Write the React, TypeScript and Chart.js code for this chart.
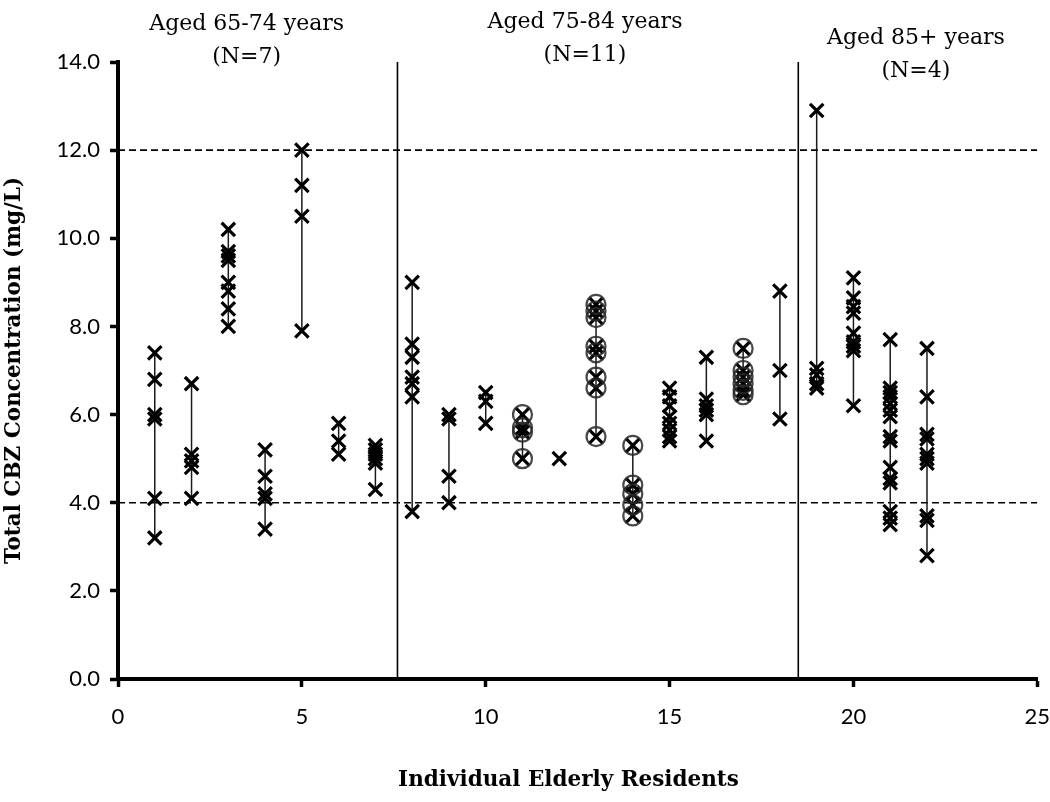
import React, { useEffect, useRef } from "react";
import { Chart, registerables } from "chart.js";

Chart.register(...registerables);

// ---- data ----
const residentIds = [1, 2, 3, 4, 5, 6, 7, 8, 9, 10, 11, 12, 13, 14, 15, 16, 17, 18, 19, 20, 21, 22];

const concentrations: number[][] = [
  [7.4, 6.8, 6.0, 5.9, 4.1, 3.2],
  [6.7, 5.1, 4.95, 4.8, 4.1],
  [10.2, 9.7, 9.6, 9.5, 9.0, 8.8, 8.4, 8.0],
  [5.2, 4.6, 4.2, 4.1, 3.4],
  [12.0, 11.2, 10.5, 7.9],
  [5.8, 5.4, 5.1],
  [5.3, 5.2, 5.1, 5.0, 4.9, 4.3],
  [9.0, 7.6, 7.3, 6.85, 6.7, 6.4, 3.8],
  [6.0, 5.9, 4.6, 4.0],
  [6.5, 6.3, 5.8],
  [6.0, 5.7, 5.6, 5.0],
  [5.0],
  [8.5, 8.35, 8.2, 7.55, 7.4, 6.85, 6.6, 5.5],
  [5.3, 4.4, 4.2, 3.95, 3.7],
  [6.6, 6.4, 6.2, 5.95, 5.8, 5.65, 5.5, 5.4],
  [7.3, 6.35, 6.2, 6.1, 6.0, 5.4],
  [7.5, 7.0, 6.85, 6.7, 6.55, 6.45],
  [8.8, 7.0, 5.9],
  [12.9, 7.05, 6.9, 6.7, 6.6],
  [9.1, 8.65, 8.45, 8.3, 7.85, 7.65, 7.55, 7.45, 6.2],
  [7.7, 6.6, 6.5, 6.4, 6.25, 6.1, 5.95, 5.5, 5.4, 4.8, 4.55, 4.45, 3.8, 3.65, 3.5],
  [7.5, 6.4, 5.55, 5.45, 5.1, 5.0, 4.9, 3.7, 3.6, 2.8],
];

const circledResidents = [11, 13, 14, 17];
const referenceLevels = [4, 12];
const groupBoundaries = [7.6, 18.5];
const groupTitles = ["Aged 65-74 years", "Aged 75-84 years", "Aged 85+ years"];
const groupCounts = ["(N=7)", "(N=11)", "(N=4)"];
const xTicks = [0, 5, 10, 15, 20, 25];
const yTicks = [0, 2, 4, 6, 8, 10, 12, 14];
const xTitle = "Individual Elderly Residents";
const yTitle = "Total CBZ Concentration (mg/L)";

// ---- plugin for group headings and x-axis title ----
const groupLabelPlugin = {
  id: "groupLabels",
  afterDraw(chart: any, _args: any, opts: any) {
    const { ctx } = chart;
    const xs = chart.scales.x;
    ctx.save();
    ctx.fillStyle = "#000";
    ctx.textAlign = "center";
    ctx.textBaseline = "middle";
    ctx.font = opts.font;
    groupTitles.forEach((t, i) => {
      const px = xs.getPixelForValue(opts.centers[i]);
      ctx.fillText(t, px, opts.rows[i][0]);
      ctx.fillText(groupCounts[i], px, opts.rows[i][1]);
    });
    ctx.font = opts.titleFont;
    ctx.fillText(xTitle, xs.getPixelForValue(opts.titleCenter), opts.titleY);
    ctx.restore();
  },
};

export default function App() {
  const ref = useRef<HTMLCanvasElement>(null);

  useEffect(() => {
    const xMin = xTicks[0];
    const xMax = xTicks[xTicks.length - 1];
    const yMin = yTicks[0];
    const yMax = yTicks[yTicks.length - 1];

    const datasets: any[] = [];

    residentIds.forEach((id, i) => {
      datasets.push({
        data: concentrations[i].map((v) => ({ x: id, y: v })),
        borderColor: "#1a1a1a",
        borderWidth: 1.5,
        pointStyle: "crossRot",
        pointRadius: 9.5,
        pointBorderWidth: 3.2,
        pointBorderColor: "#000",
        pointBackgroundColor: "#000",
        showLine: true,
        order: 2,
      });
    });

    circledResidents.forEach((id) => {
      datasets.push({
        data: concentrations[id - 1].map((v) => ({ x: id, y: v })),
        showLine: false,
        pointStyle: "circle",
        pointRadius: 9.5,
        pointBorderWidth: 2.2,
        pointBorderColor: "rgba(40,40,40,0.85)",
        pointBackgroundColor: "rgba(0,0,0,0)",
        order: 1,
      });
    });

    referenceLevels.forEach((lv) => {
      datasets.push({
        data: [
          { x: xMin, y: lv },
          { x: xMax, y: lv },
        ],
        borderColor: "#000",
        borderWidth: 1.6,
        borderDash: [7, 4],
        pointRadius: 0,
        order: 3,
      });
    });

    groupBoundaries.forEach((b) => {
      datasets.push({
        data: [
          { x: b, y: yMin },
          { x: b, y: yMax },
        ],
        borderColor: "#000",
        borderWidth: 1.6,
        pointRadius: 0,
        order: 3,
      });
    });

    const tickFont = { family: "Lato", size: 22 };

    const chart = new Chart(ref.current as HTMLCanvasElement, {
      type: "line",
      data: { datasets },
      plugins: [groupLabelPlugin as any],
      options: {
        animation: false,
        responsive: false,
        layout: { padding: { top: 62, right: 10, left: 0, bottom: 0 } },
        plugins: {
          legend: { display: false },
          tooltip: { enabled: false },
          groupLabels: {
            font: '22px "DejaVu Serif"',
            titleFont: 'bold 21.5px "DejaVu Serif"',
            titleCenter: 12.25,
            titleY: 780,
            centers: [3.5, 12.7, 21.7],
            rows: [
              [24, 57],
              [22, 55],
              [38, 71],
            ],
          },
        } as any,
        scales: {
          x: {
            type: "linear",
            min: xMin,
            max: xMax,
            afterBuildTicks: (s: any) => {
              s.ticks = xTicks.map((v) => ({ value: v }));
            },
            afterFit: (s: any) => {
              s.height = 123;
              s.paddingLeft = 0;
              s.paddingRight = 0;
            },
            ticks: { font: tickFont, color: "#000", padding: 17 },
            grid: {
              drawOnChartArea: false,
              drawTicks: true,
              tickLength: 8,
              tickWidth: 3.5,
              tickColor: "#000",
            },
            border: { display: true, color: "#000", width: 4 },
          },
          y: {
            type: "linear",
            min: yMin,
            max: yMax,
            afterBuildTicks: (s: any) => {
              s.ticks = yTicks.map((v) => ({ value: v }));
            },
            afterFit: (s: any) => {
              s.width = 118;
            },
            ticks: {
              font: tickFont,
              color: "#000",
              padding: 10,
              callback: (v: any) => Number(v).toFixed(1),
            },
            grid: {
              drawOnChartArea: false,
              drawTicks: true,
              tickLength: 8,
              tickWidth: 3.5,
              tickColor: "#000",
            },
            border: { display: true, color: "#000", width: 4 },
            title: {
              display: true,
              text: yTitle,
              color: "#000",
              font: { family: "DejaVu Serif", size: 21.5, weight: "bold" },
              padding: { top: 2, bottom: 0 },
            },
          },
        },
      },
    });

    return () => chart.destroy();
  }, []);

  return (
    <div
      style={{
        position: "absolute",
        left: 0,
        top: 0,
        width: 1050,
        height: 802,
        background: "#fff",
      }}
    >
      <canvas ref={ref} width={1050} height={802} style={{ display: "block" }} />
    </div>
  );
}
